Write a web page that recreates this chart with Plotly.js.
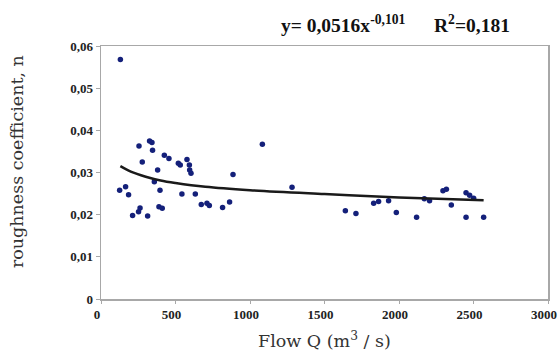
<!DOCTYPE html>
<html>
<head>
<meta charset="utf-8">
<script src="https://cdn.plot.ly/plotly-3.0.1.min.js"></script>
<style>html,body{margin:0;padding:0;background:#fff;}#chart{width:558px;height:354px;}</style>
</head>
<body>
<div id="chart"></div>
<script>
// Observed data points (Flow Q, roughness n)
var flowQ = [130,125,165,185,212,255,252,262,277,313,326,342,346,380,358,396,389,411,425,456,519,532,577,593,595,604,543,633,673,711,727,816,863,886,1083,1282,
  1640,1711,1830,1863,1930,1982,2118,2170,2205,2295,2318,2351,2450,2474,2501,2450,2568];
var roughness = [0.0568,0.0258,0.0266,0.0247,0.0198,0.0363,0.0207,0.0216,0.0325,0.0197,0.0375,0.0371,0.0353,0.0306,0.0278,0.0258,0.0219,0.0215,0.0341,0.0333,0.0322,0.0318,0.0331,0.0318,0.0306,0.0298,0.0249,0.0249,0.0224,0.0227,0.0222,0.0217,0.0230,0.0295,0.0367,0.0265,
  0.0209,0.0203,0.0227,0.0231,0.0233,0.0205,0.0194,0.0238,0.0233,0.0257,0.0260,0.0223,0.0252,0.0246,0.0239,0.0194,0.0194];
// Trend curve
var trendQ = [130,200,300,400,500,700,1000,1500,2000,2568];
var trendN = [0.0315,0.0302,0.0290,0.0281,0.0275,0.0266,0.0258,0.0249,0.0241,0.0234];
// Tick labels
var xTickVals = [0,500,1000,1500,2000,2500,3000];
var xTickText = ["0","500","1000","1500","2000","2500","3000"];
var yTickVals = [0,0.01,0.02,0.03,0.04,0.05,0.06];
var yTickText = ["0","0,01","0,02","0,03","0,04","0,05","0,06"];

var serif = "Liberation Serif, Times New Roman, serif";
var serif2 = "DejaVu Serif, serif";
var bold = function (a) { return a.map(function (s) { return "<b>" + s + "</b>"; }); };
var traces = [
  {x: flowQ, y: roughness, type: "scatter", mode: "markers",
   marker: {color: "#14207a", size: 5.5}, hoverinfo: "none"},
  {x: trendQ, y: trendN, type: "scatter", mode: "lines",
   line: {color: "#1a1a1a", width: 2.5, shape: "spline"}, hoverinfo: "none"}
];
var layout = {
  width: 558, height: 354,
  margin: {l: 101, r: 10, t: 46, b: 55},
  paper_bgcolor: "#fff", plot_bgcolor: "#fff",
  showlegend: false,
  xaxis: {range: [0, 3000], tickvals: xTickVals, ticktext: bold(xTickText),
    ticklabeloverflow: "allow", ticklabelshift: -4,
    showgrid: false, zeroline: false, showline: true, linecolor: "#a8a8a8", linewidth: 1.5,
    mirror: true, ticks: "outside", ticklen: 3, tickcolor: "#a8a8a8",
    tickfont: {family: serif, size: 13, color: "#222"}},
  yaxis: {range: [0, 0.06], tickvals: yTickVals, ticktext: bold(yTickText),
    showgrid: false, zeroline: false, showline: true, linecolor: "#a8a8a8", linewidth: 1.5,
    mirror: true, ticks: "outside", ticklen: 4, tickcolor: "#a8a8a8",
    tickfont: {family: serif, size: 13, color: "#222"}},
  annotations: [{
    xref: "paper", yref: "paper", x: 0.398, y: 1.03, xanchor: "left", yanchor: "bottom",
    showarrow: false,
    text: "<b>y= 0,0516x<sup>-0,101</sup></b>",
    font: {family: serif, size: 19.5, color: "#111"}
  }, {
    xref: "paper", yref: "paper", x: 0.92, y: 1.03, xanchor: "right", yanchor: "bottom",
    showarrow: false,
    text: "<b>R<sup>2</sup>=0,181</b>",
    font: {family: serif, size: 19.5, color: "#111"}
  }, {
    xref: "paper", yref: "paper", x: 0.5, y: -0.162, xanchor: "center", yanchor: "middle",
    showarrow: false,
    text: "Flow Q (m<sup>3</sup> / s)",
    font: {family: serif2, size: 17.5, color: "#333"}
  }, {
    xref: "paper", yref: "paper", x: -0.188, y: 0.545, xanchor: "center", yanchor: "middle",
    showarrow: false, textangle: -90,
    text: "roughness coefficient, n",
    font: {family: serif2, size: 17.5, color: "#333"}
  }]
};
Plotly.newPlot("chart", traces, layout, {staticPlot: true, displayModeBar: false});
</script>
</body>
</html>
